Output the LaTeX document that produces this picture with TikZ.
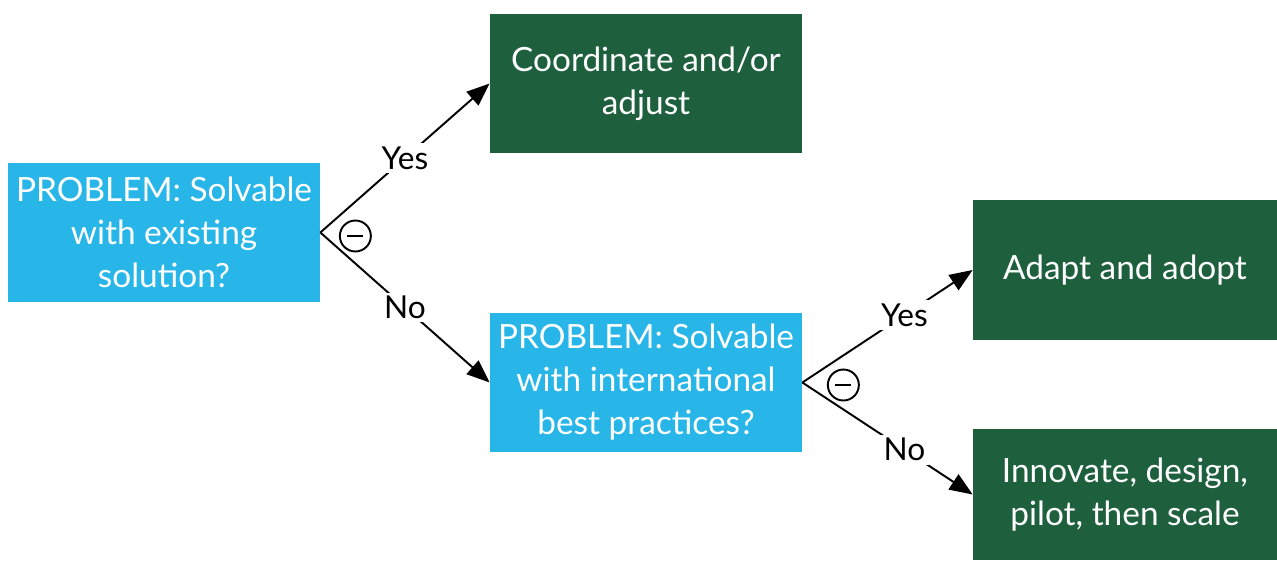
\documentclass[tikz,border=0pt]{standalone}
\usepackage{fontspec}
\setmainfont{Lato}
\usetikzlibrary{arrows.meta}
\definecolor{probblue}{RGB}{40,182,233}
\definecolor{actgreen}{RGB}{30,96,62}
\tikzset{
	problem/.style = {fill = probblue, text = white, minimum width = 6.24cm, minimum height = 2.78cm, align = center, font = \fontsize{19}{24.5}\selectfont},
	action/.style = {fill = actgreen, text = white, minimum width = 6.08cm, align = center, font = \fontsize{19}{24.5}\selectfont},
	flow/.style = {-{Triangle[length = 0.46cm, width = 0.36cm]}, line width = 1.1pt},
	answer/.style = {fill = white, inner sep = 2pt, font = \fontsize{18}{22}\selectfont},
	gate/.style = {circle, draw, line width = 1.1pt, minimum size = 0.62cm, inner sep = 0pt}
}
\begin{document}
\begin{tikzpicture}
	\useasboundingbox (0,0) rectangle (25.54,-11.22);
	\node [problem] (probA) at (3.28,-4.65) {PROBLEM: Solvable\\with existing\\solution?};
	\node [action, minimum width = 6.24cm, minimum height = 2.78cm] (coord) at (12.92,-1.67) {Coordinate and/or\\adjust};
	\node [problem] (probB) at (12.92,-7.65) {PROBLEM: Solvable\\with international\\best practices?};
	\node [action, minimum height = 2.8cm] (adapt) at (22.5,-5.4) {Adapt and adopt};
	\node [action, minimum height = 2.62cm] (innov) at (22.5,-9.89) {Innovate, design,\\pilot, then scale};
	\draw [flow] (probA.east) -- (coord.west) node [answer, pos = 0.5] {Yes};
	\draw [flow] (probA.east) -- (probB.west) node [answer, pos = 0.5] {No};
	\draw [flow] (probB.east) -- (adapt.west) node [answer, pos = 0.6] {Yes};
	\draw [flow] (probB.east) -- (innov.west) node [answer, pos = 0.6] {No};
	\node [gate] (gateA) at ([xshift = 0.7cm, yshift = -0.07cm]probA.east) {};
	\draw [line width = 1.1pt] ([xshift = -0.16cm]gateA.center) -- ([xshift = 0.16cm]gateA.center);
	\node [gate] (gateB) at ([xshift = 0.82cm, yshift = -0.05cm]probB.east) {};
	\draw [line width = 1.1pt] ([xshift = -0.16cm]gateB.center) -- ([xshift = 0.16cm]gateB.center);
\end{tikzpicture}
\end{document}
